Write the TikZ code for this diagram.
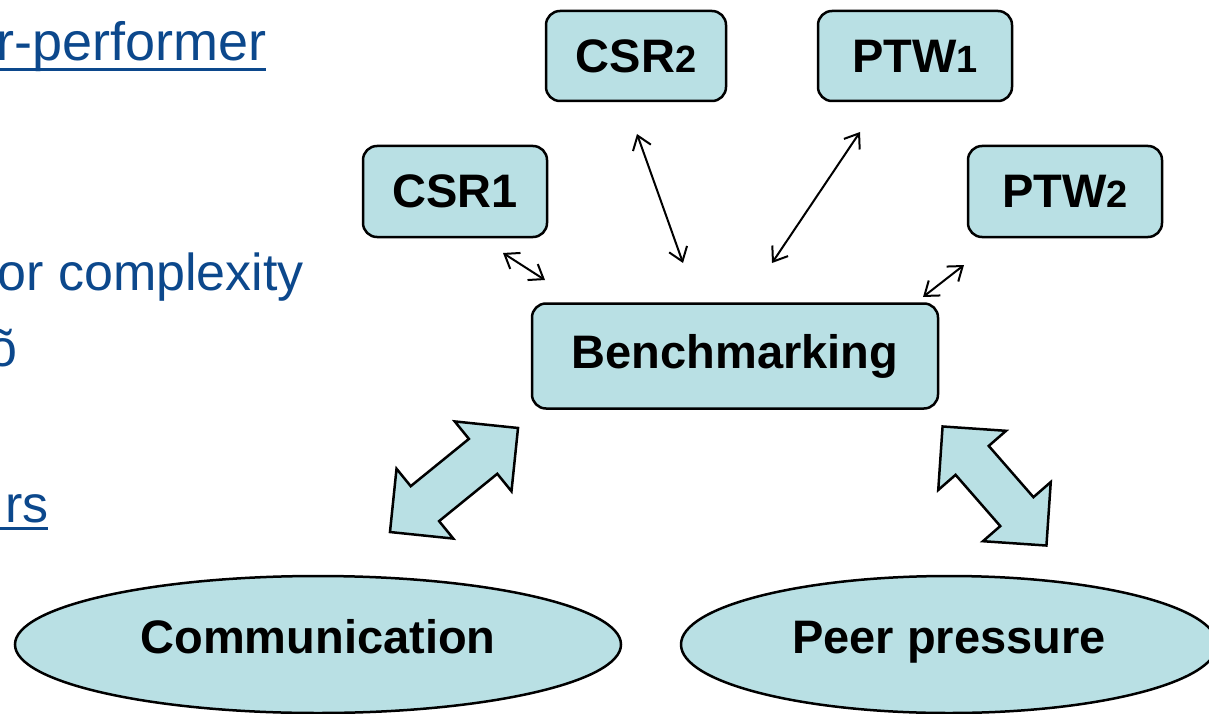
\documentclass[tikz,border=0pt]{standalone}
\usepackage{fontspec}
\setmainfont{Liberation Sans}
\usetikzlibrary{arrows.meta,shapes.geometric}
\definecolor{boxfill}{RGB}{185,224,228}
\definecolor{slideblue}{RGB}{12,72,140}
\begin{document}
\begin{tikzpicture}[x=1pt,y=-1pt,
  box/.style={draw=black, line width=2.5pt, fill=boxfill, rounded corners=14pt,
    font=\fontsize{47}{50}\selectfont\bfseries, inner sep=0pt},
  oval/.style={ellipse, draw=black, line width=2.5pt, fill=boxfill,
    font=\fontsize{47}{50}\selectfont\bfseries, inner sep=0pt,
    text height=34pt, text depth=17pt},
  link/.style={line width=2pt,
    {Straight Barb[length=13pt,width=19pt]}-{Straight Barb[length=13pt,width=19pt]}},
  bigarrow/.style={draw=black, line width=2.5pt, fill=boxfill, line join=miter},
  slidetext/.style={text=slideblue, font=\fontsize{52}{56}\selectfont, inner sep=0pt, anchor=base east},
  uline/.style={draw=slideblue, line width=3pt}
]
\useasboundingbox (0,0) rectangle (1209,714);

% left slide text (cut off at the left edge)
\node[slidetext, font=\fontsize{54}{58}\selectfont] (t1) at (267,61) {r-performer};
\node[slidetext] (t2) at (304,290) {or complexity};
\node[slidetext] (t3) at (18,366) {õ};
\node[slidetext] (t4) at (49,522) {rs};
\draw[uline] (0,70) -- (266,70);
\draw[uline] (0,528) -- (48,528);

% boxes
\node[box, minimum width=180pt, minimum height=90pt] (csr2) at (636,56) {CSR{\fontsize{38}{40}\selectfont 2}};
\node[box, minimum width=194pt, minimum height=90pt] (ptw1) at (915,56) {PTW{\fontsize{38}{40}\selectfont 1}};
\node[box, minimum width=184pt, minimum height=91pt] (csr1) at (455,191.5) {CSR1};
\node[box, minimum width=194pt, minimum height=91pt] (ptw2) at (1065,191.5) {PTW{\fontsize{38}{40}\selectfont 2}};
\node[box, minimum width=406pt, minimum height=105pt] (bench) at (735,356) {Benchmarking};

% ellipses
\node[oval, minimum width=606pt, minimum height=137pt] (comm) at (318,644.5) {Communication};
\node[oval, minimum width=536pt, minimum height=137pt] (peer) at (949,644.5) {Peer pressure};

% small double arrows
\coordinate (a1s) at (503,253); \coordinate (a1e) at (545,280);
\coordinate (a2s) at (637,134); \coordinate (a2e) at (683,263);
\coordinate (a3s) at (860,132); \coordinate (a3e) at (772,263);
\coordinate (a4s) at (964,265); \coordinate (a4e) at (923,297);
\draw[link] (a1s) -- (a1e);
\draw[link] (a2s) -- (a2e);
\draw[link] (a3s) -- (a3e);
\draw[link] (a4s) -- (a4e);

% big block double arrows
\begin{scope}[shift={(454,480)}, rotate=39.1]
\draw[bigarrow] (-82.5,0) -- (-37.5,-45) -- (-37.5,-22.5) -- (37.5,-22.5) -- (37.5,-45)
  -- (82.5,0) -- (37.5,45) -- (37.5,22.5) -- (-37.5,22.5) -- (-37.5,45) -- cycle;
\end{scope}
\begin{scope}[shift={(994.5,486)}, rotate=-48.9]
\draw[bigarrow] (-79,0) -- (-34,-45) -- (-34,-22) -- (34,-22) -- (34,-45)
  -- (79,0) -- (34,45) -- (34,22) -- (-34,22) -- (-34,45) -- cycle;
\end{scope}
\end{tikzpicture}
\end{document}
